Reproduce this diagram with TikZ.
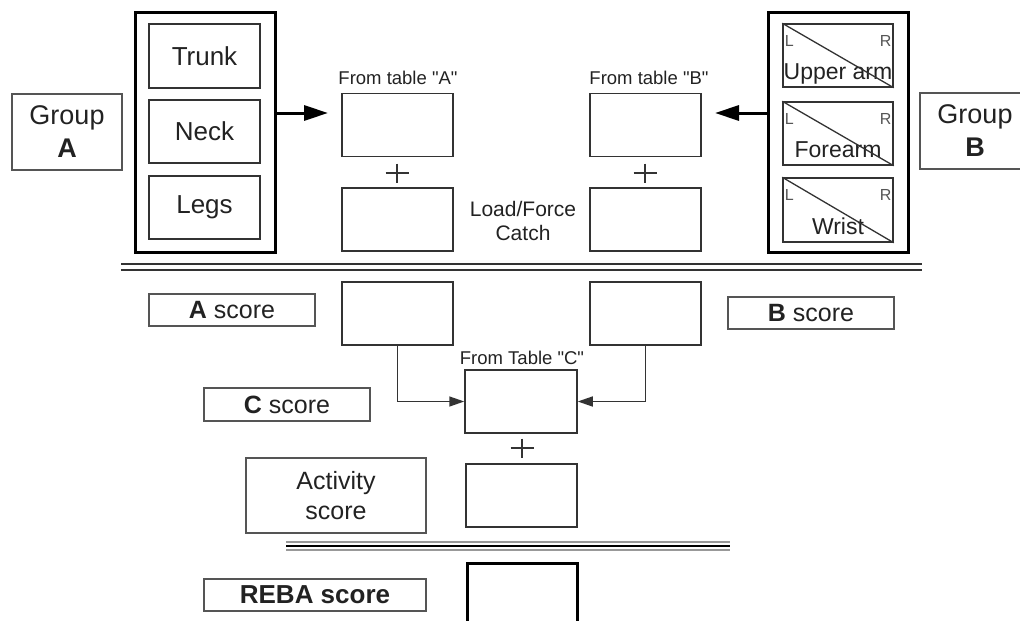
\documentclass[tikz,border=0pt]{standalone}
\usepackage{fontspec}
\setmainfont{Liberation Sans}[Ligatures=TeXOff]
\usetikzlibrary{arrows.meta}
\definecolor{ink}{HTML}{222222}
\definecolor{edge}{HTML}{333333}
\definecolor{soft}{HTML}{555555}
\newcommand\fsz[2]{\fontsize{#1}{#2}\selectfont}
\tikzset{
  cell/.style={draw=edge, line width=1.5pt, minimum width=111pt, minimum height=63pt, inner sep=0pt, text=ink},
  outerbox/.style={draw=black, line width=3pt, minimum width=140pt, minimum height=240pt, inner sep=0pt},
  lbl/.style={draw=soft, line width=1.5pt, inner sep=0pt, text=ink, align=center},
  plain/.style={text=ink, inner sep=0pt, align=center},
  bigarrow/.style={draw=black, line width=3pt, -{Triangle[length=24pt,width=15pt]}},
  conn/.style={draw=edge, line width=1.5pt, -{Triangle[length=15pt,width=10pt]}},
  plusln/.style={draw=edge, line width=1.5pt},
  diag/.style={draw=edge, line width=1.3pt},
  lr/.style={text=soft, inner sep=0pt, font=\fsz{16}{18}},
  rule/.style={draw=edge, line width=2pt},
  rulesoft/.style={draw=gray!80, line width=1.5pt}
}
\begin{document}
\begin{tikzpicture}[x=1pt,y=-1pt]
\useasboundingbox (0,0) rectangle (1020,621);
\clip (0,0) rectangle (1020,621);

% Group A
\node[lbl, minimum width=110pt, minimum height=76pt, font=\fsz{27}{33}] (grpA) at (67,132) {Group\\\textbf{A}};
\node[outerbox] (outA) at (205,132) {};
\node[cell, minimum height=64pt, font=\fsz{26}{30}] (trunk) at (204.5,56) {Trunk};
\node[cell, font=\fsz{26}{30}] (neck) at (204.5,131.5) {Neck};
\node[cell, font=\fsz{26}{30}] (legs) at (204.5,207.5) {Legs};
\coordinate (tipA) at (328,113);
\draw[bigarrow] (outA.east |- tipA) -- (tipA);

% table A column
\node[plain, font=\fsz{18.5}{22}] (fromA) at (398,78) {From table "A"};
\node[cell] (a1) at (397.5,125) {};
\node[cell] (a2) at (397.5,219.5) {};
\coordinate (plusA) at (397,173);
\draw[plusln] (plusA) +(-11.5,0) -- +(11.5,0) +(0,-9.5) -- +(0,9.5);
\node[plain, font=\fsz{21}{23.5}] (load) at (523,221) {Load/Force\\Catch};

% table B column
\node[plain, font=\fsz{18.5}{22}] (fromB) at (649,78) {From table "B"};
\node[cell] (b1) at (645.5,125) {};
\node[cell] (b2) at (645.5,219.5) {};
\coordinate (plusB) at (645,173);
\draw[plusln] (plusB) +(-11.5,0) -- +(11.5,0) +(0,-9.5) -- +(0,9.5);

% Group B
\node[outerbox] (outB) at (838,132) {};
\node[cell, minimum width=110pt] (upper) at (838,55.5) {};
\node[cell, minimum width=110pt] (fore) at (838,133.5) {};
\node[cell, minimum width=110pt, minimum height=64pt] (wrist) at (838,210) {};
\foreach \b/\t in {upper/Upper arm, fore/Forearm, wrist/Wrist}{
  \node[plain, font=\fsz{23}{26}, anchor=base] (\b T) at ([yshift=8pt]\b.south) {\t};
  \draw[diag] (\b.north west) -- (\b.south east);
  \node[lr] (\b L) at ([xshift=7pt,yshift=-18pt]\b.north west) {L};
  \node[lr] (\b R) at ([xshift=-8pt,yshift=-18pt]\b.north east) {R};
}
\coordinate (tipB) at (715,113);
\draw[bigarrow] (outB.west |- tipB) -- (tipB);
\node[lbl, minimum width=110pt, minimum height=76pt, font=\fsz{27}{33}] (grpB) at (975,131) {Group\\\textbf{B}};

% first divider
\draw[rule] (121,264) -- (922,264);
\draw[rule] (121,270) -- (922,270);

% scores
\node[lbl, minimum width=166pt, minimum height=32pt, font=\fsz{25}{30}] (ascore) at (232,310) {\textbf{A} score};
\node[cell] (a3) at (397.5,313.5) {};
\node[cell] (b3) at (645.5,313.5) {};
\node[lbl, minimum width=166pt, minimum height=32pt, font=\fsz{25}{30}] (bscore) at (811,313) {\textbf{B} score};
\node[plain, font=\fsz{18.5}{22}] (fromC) at (522,358) {From Table "C"};
\node[cell, minimum width=112pt] (c) at (521,401.5) {};
\node[lbl, minimum width=166pt, minimum height=33pt, font=\fsz{25}{30}] (cscore) at (287,404.5) {\textbf{C} score};
\draw[conn] (a3.south) |- (c.west);
\draw[conn] (b3.south) |- (c.east);
\coordinate (plusC) at (522,448);
\draw[plusln] (plusC) +(-11.5,0) -- +(11.5,0) +(0,-9.5) -- +(0,9.5);
\node[cell] (d) at (521.5,495.5) {};
\node[lbl, minimum width=180pt, minimum height=75pt, font=\fsz{25}{30}] (act) at (336,495.5) {Activity\\score};

% second divider
\draw[rulesoft] (286,542) -- (730,542);
\draw[rule, draw=black] (286,546) -- (730,546);
\draw[rulesoft] (286,550) -- (730,550);

% REBA
\node[lbl, minimum width=222pt, minimum height=32pt, font=\bfseries\fsz{26}{30}] (reba) at (315,595) {REBA score};
\node[outerbox, minimum width=110pt, minimum height=63pt] (rebabox) at (522,594.5) {};
\end{tikzpicture}
\end{document}
